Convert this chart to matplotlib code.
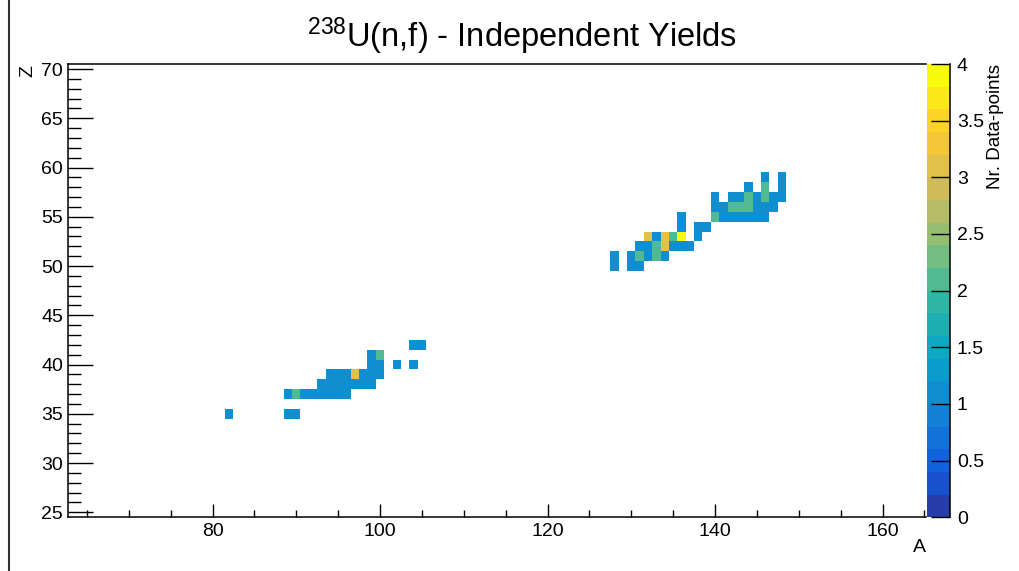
import numpy as np
import matplotlib
matplotlib.use('Agg')
import matplotlib.pyplot as plt
from matplotlib.colors import ListedColormap, BoundaryNorm, LinearSegmentedColormap
from matplotlib.ticker import MultipleLocator, FuncFormatter
from matplotlib.lines import Line2D

plt.rcParams['font.family'] = ['Liberation Sans', 'DejaVu Sans']
plt.rcParams['mathtext.fontset'] = 'custom'
plt.rcParams['mathtext.rm'] = 'Liberation Sans'
plt.rcParams['mathtext.it'] = 'Liberation Sans:italic'

# mass number A, charge Z, number of data points per (A, Z) cell
# light fragment group
a_light = [82, 89, 90,
           89, 90, 91, 92, 93, 94, 95, 96,
           93, 94, 95, 96, 97, 98, 99,
           94, 95, 96, 97, 98, 99, 100,
           99, 100, 102, 104,
           99, 100,
           104, 105]
z_light = [35, 35, 35,
           37, 37, 37, 37, 37, 37, 37, 37,
           38, 38, 38, 38, 38, 38, 38,
           39, 39, 39, 39, 39, 39, 39,
           40, 40, 40, 40,
           41, 41,
           42, 42]
n_light = [1, 1, 1,
           1, 2, 1, 1, 1, 1, 1, 1,
           1, 1, 1, 1, 1, 1, 1,
           1, 1, 1, 3, 1, 1, 1,
           1, 1, 1, 1,
           1, 2,
           1, 1]

# heavy fragment group
a_heavy = [128, 130, 131,
           128, 130, 131, 132, 133, 134,
           131, 132, 133, 134, 135, 136, 137,
           132, 133, 134, 135, 136, 138,
           136, 138, 139,
           136, 140, 141, 142, 143, 144, 145, 146,
           140, 141, 142, 143, 144, 145, 146, 147,
           140, 142, 143, 144, 145, 146, 147, 148,
           144, 146, 148,
           146, 148]
z_heavy = [50, 50, 50,
           51, 51, 51, 51, 51, 51,
           52, 52, 52, 52, 52, 52, 52,
           53, 53, 53, 53, 53, 53,
           54, 54, 54,
           55, 55, 55, 55, 55, 55, 55, 55,
           56, 56, 56, 56, 56, 56, 56, 56,
           57, 57, 57, 57, 57, 57, 57, 57,
           58, 58, 58,
           59, 59]
n_heavy = [1, 1, 1,
           1, 1, 2, 1, 2, 1,
           1, 1, 2, 3, 1, 1, 1,
           3, 1, 3, 2, 4, 1,
           1, 1, 1,
           1, 2, 1, 1, 1, 1, 1, 1,
           1, 1, 2, 2, 2, 1, 1, 1,
           1, 1, 1, 2, 1, 2, 1, 1,
           1, 2, 1,
           1, 1]

# histogram binning (unit bins centred on integers)
a_edges = np.arange(62.5, 166.0, 1.0)
z_edges = np.arange(24.5, 71.0, 1.0)
H = np.full((len(z_edges) - 1, len(a_edges) - 1), np.nan)
for a, z, n in zip(a_light + a_heavy, z_light + z_heavy, n_light + n_heavy):
    H[z - 25, a - 63] = n
H = np.ma.masked_invalid(H)

# ROOT kBird palette, 20 contour levels
stops = [0.0, 0.125, 0.25, 0.375, 0.5, 0.625, 0.75, 0.875, 1.0]
red = [0.2082, 0.0592, 0.0780, 0.0232, 0.1802, 0.5301, 0.8186, 0.9956, 0.9764]
green = [0.1664, 0.3599, 0.5041, 0.6419, 0.7178, 0.7492, 0.7328, 0.7862, 0.9832]
blue = [0.5293, 0.8684, 0.8385, 0.7914, 0.6425, 0.4662, 0.3499, 0.1968, 0.0539]
bird = LinearSegmentedColormap.from_list('bird', list(zip(stops, zip(red, green, blue))))
nlev = 20
cmap = ListedColormap([bird(min((i + 0.99) / nlev, 1.0)) for i in range(nlev)])
levels = np.linspace(0, 4, nlev + 1)
norm = BoundaryNorm(levels, nlev, clip=True)

W, Hpx = 1019, 571
fig = plt.figure(figsize=(W / 100, Hpx / 100), dpi=100)

x0, x1 = 68.45, 926.05
y0, y1 = 64.08, 517.2
ax = fig.add_axes([x0 / W, 1 - y1 / Hpx, (x1 - x0) / W, (y1 - y0) / Hpx])
mesh = ax.pcolormesh(a_edges, z_edges, H, cmap=cmap, norm=norm)
ax.set_xlim(62.8, 165.2)
ax.set_ylim(24.5, 70.5)

ax.xaxis.set_major_locator(MultipleLocator(20))
ax.xaxis.set_minor_locator(MultipleLocator(5))
ax.yaxis.set_major_locator(MultipleLocator(5))
ax.yaxis.set_minor_locator(MultipleLocator(1))
ax.tick_params(axis='both', which='both', direction='in', width=1, colors='black',
               labelsize=14)
ax.tick_params(axis='x', which='major', length=9.4, pad=4)
ax.tick_params(axis='x', which='minor', length=5)
ax.tick_params(axis='y', which='major', length=18, pad=4)
ax.tick_params(axis='y', which='minor', length=9.4)
ax.spines['right'].set_visible(False)
for s in ['left', 'bottom', 'top']:
    ax.spines[s].set_linewidth(1.1)

# colour scale
cx0, cx1 = 926.5, 950.0
cax = fig.add_axes([cx0 / W, 1 - y1 / Hpx, (cx1 - cx0) / W, (y1 - y0) / Hpx])
cbar = fig.colorbar(mesh, cax=cax, ticks=np.arange(0, 4.01, 0.5))
cbar.outline.set_visible(False)
cbar.ax.yaxis.set_major_formatter(FuncFormatter(lambda v, p: f'{v:g}'))
cbar.ax.tick_params(direction='in', length=14, width=1, labelsize=14, pad=5)
cbar.ax.minorticks_off()
cax.add_line(Line2D([1, 1], [0, 1], transform=cax.transAxes, color='black', lw=1.1,
                    clip_on=False))

fig.text(0.512, 0.936, r'$^{238}$U(n,f) - Independent Yields', ha='center', va='center',
         fontsize=23.5)
fig.text(28 / W, 1 - 71 / Hpx, 'Z', rotation=90, ha='center', va='center', fontsize=14)
fig.text(919 / W, 1 - 548 / Hpx, 'A', ha='center', va='center', fontsize=14)
fig.text(996 / W, 1 - 64 / Hpx, 'Nr. Data-points', rotation=90, ha='center', va='top',
         fontsize=13.5)

fig.add_artist(Line2D([9 / W, 9 / W], [0, 1], transform=fig.transFigure, color='#333333',
                      lw=1.5))

fig.savefig('out.png', dpi=100)
